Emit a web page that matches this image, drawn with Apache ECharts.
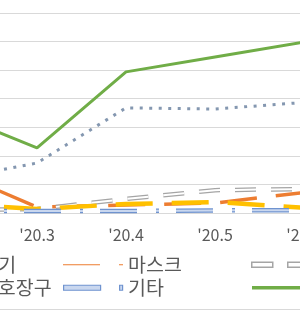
<!DOCTYPE html>
<html><head><meta charset="utf-8">
<script src="https://cdn.jsdelivr.net/npm/echarts@6/dist/echarts.min.js"></script>
<style>html,body{margin:0;padding:0;background:#fff}#c{width:300px;height:310px}</style>
</head><body><div id="c"></div>
<script>
// ---- data (units arbitrary, hidden y labels) ----
const categories = ["'20.2", "'20.3", "'20.4", "'20.5", "'20.6"];
const yTicks = [0, 500, 1000, 1500, 2000, 2500, 3000, 3500];
const nameDotted = "체온측정기";
const nameMask = "마스크";
const nameGray = "손소독제";
const nameYellow = "개인보호장구";
const nameEtc = "기타";
const nameTotal = "합계";
const dottedVals = [580, 875, 1840, 1820, 1935];
const maskVals = [770, 105, 140, 175, 360];
const grayVals = [50, 70, 245, 400, 420];
const yellowVals = [160, 70, 158, 192, 90];
const etcVals = [40, 35, 35, 45, 50];
const totalVals = [1770, 1140, 2470, 2730, 2990];

const FONT = '"Noto Sans CJK KR","Noto Sans",sans-serif';
const chart = echarts.init(document.getElementById('c'), null, {renderer: 'canvas'});

function mkLegend(name, left, top, itemWidth, itemHeight, icon, itemStyle) {
  return {
    data: [{name: name, icon: icon}],
    left: left, top: top, padding: 0,
    itemWidth: itemWidth, itemHeight: itemHeight,
    itemStyle: itemStyle,
    selectedMode: false,
    textStyle: {fontSize: 19.5, color: '#595959', fontFamily: FONT}
  };
}

const option = {
  animation: false,
  backgroundColor: '#fff',
  grid: {left: -52, right: -4, top: 13, bottom: 97, outerBoundsMode: 'none', containLabel: false},
  xAxis: {
    type: 'category', data: categories, boundaryGap: false,
    axisLine: {lineStyle: {color: '#d9d9d9', width: 1}},
    axisTick: {show: false},
    axisLabel: {color: '#595959', fontSize: 16, fontFamily: FONT, margin: 14, hideOverlap: false},
    splitLine: {show: false}
  },
  yAxis: {
    type: 'value', min: yTicks[0], max: yTicks[yTicks.length - 1], interval: yTicks[1] - yTicks[0],
    axisLabel: {show: false}, axisLine: {show: false}, axisTick: {show: false},
    splitLine: {lineStyle: {color: '#d9d9d9', width: 1}}
  },
  legend: [
    mkLegend(nameDotted, -128, 255, 60, 3, 'path://M0,0H3V1H0Z M10,0H13V1H10Z', {color: '#8497b0', borderWidth: 0}),
    mkLegend(nameMask, 63, 255, 60, 4, 'path://M0,0H37V1H0Z M56,0H60V1H56Z', {color: '#ed7d31', borderWidth: 0}),
    mkLegend(nameGray, 251, 255, 57, 5, 'path://M0,0H21V5H0Z M36,0H57V5H36Z', {color: '#ffffff', borderColor: '#a5a5a5', borderWidth: 1.5}),
    mkLegend(nameYellow, -121, 278, 60, 4, 'path://M0,0H37V1H0Z M56,0H60V1H56Z', {color: '#ffc000', borderWidth: 0}),
    mkLegend(nameEtc, 63, 278, 60, 5, 'path://M0,0H37V5H0Z M56,0H59V5H56Z', {color: '#c9d7ef', borderColor: '#6f93cf', borderWidth: 1.2}),
    mkLegend(nameTotal, 252, 278, 60, 3.5, 'rect', {color: '#70ad47', borderWidth: 0})
  ],
  graphic: [{
    type: 'rect', silent: true, z: -1,
    shape: {x: -10, y: -10, width: 320, height: 319.5},
    style: {fill: 'none', stroke: '#d9d9d9', lineWidth: 1}
  }],
  series: [
    {name: nameDotted, type: 'line', data: dottedVals, symbol: 'none', z: 2,
      lineStyle: {color: '#8497b0', width: 3, type: [3, 6.5], cap: 'butt'}},
    {name: nameMask, type: 'line', data: maskVals, symbol: 'none', z: 3,
      lineStyle: {color: '#ed7d31', width: 3.5, type: [37, 19]}},
    {name: nameGray, type: 'line', data: grayVals, symbol: 'none', z: 4,
      lineStyle: {color: '#a5a5a5', width: 4.5, type: [21, 15]}},
    {name: nameGray + '_in', type: 'line', data: grayVals, symbol: 'none', z: 5,
      lineStyle: {color: '#ffffff', width: 2, type: [21, 15]}},
    {name: nameYellow, type: 'line', data: yellowVals, symbol: 'none', z: 6,
      lineStyle: {color: '#ffc000', width: 4.5, type: [37, 19]}},
    {name: nameEtc, type: 'line', data: etcVals, symbol: 'none', z: 7,
      lineStyle: {color: '#6f93cf', width: 4.5, type: [37, 19, 3, 17]}},
    {name: nameEtc + '_in', type: 'line', data: etcVals, symbol: 'none', z: 8,
      lineStyle: {color: '#c9d7ef', width: 2, type: [37, 19, 3, 17]}},
    {name: nameTotal, type: 'line', data: totalVals, symbol: 'none', z: 9,
      lineStyle: {color: '#70ad47', width: 3}}
  ]
};
chart.setOption(option);
</script>
</body></html>
